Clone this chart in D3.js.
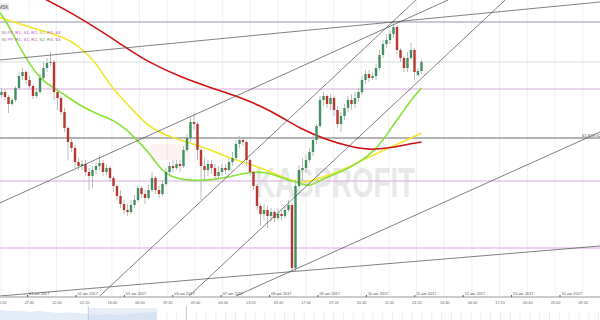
<!DOCTYPE html>
<html>
<head>
<meta charset="utf-8">
<script src="https://cdn.jsdelivr.net/npm/d3@7"></script>
<style>
  body { margin: 0; background: #fff; }
  svg { display: block; font-family: "Liberation Sans", Arial, sans-serif; }
</style>
</head>
<body>
<svg id="chart" width="600" height="320"></svg>
<script>
// --- candles (one per bar) ---
var openP = [60.05,60.08,60.03,59.96,60.00,60.12,60.24,60.28,60.20,60.14,60.04,60.08,60.22,60.32,60.37,60.38,60.08,60.02,59.88,59.72,
  59.58,59.52,59.38,59.34,59.36,59.28,59.24,59.30,59.34,59.37,59.28,59.32,59.22,59.14,59.04,58.96,58.90,58.88,58.95,59.00,
  59.12,59.06,59.02,59.10,59.22,59.10,59.06,59.16,59.28,59.34,59.32,59.36,59.34,59.50,59.62,59.78,59.76,59.50,59.34,59.30,
  59.36,59.32,59.24,59.28,59.32,59.30,59.38,59.42,59.56,59.60,59.58,59.40,59.28,59.14,58.94,58.86,58.90,58.84,58.88,58.82,
  58.86,58.84,58.90,58.95,58.32,59.14,59.30,59.32,59.40,59.48,59.60,59.74,60.00,60.04,59.96,60.02,59.90,59.76,59.84,59.92,
  60.00,59.96,60.02,60.08,60.20,60.26,60.22,60.24,60.32,60.45,60.56,60.60,60.66,60.73,60.50,60.42,60.32,60.42,60.50,60.25,60.29];
var highP = [60.12,60.10,60.05,60.02,60.14,60.28,60.32,60.30,60.24,60.16,60.12,60.26,60.38,60.42,60.48,60.40,60.12,60.04,59.92,59.74,
  59.62,59.55,59.42,59.40,59.40,59.32,59.34,59.38,59.45,59.40,59.36,59.34,59.24,59.16,59.10,59.00,58.96,59.00,59.05,59.15,
  59.14,59.10,59.15,59.28,59.24,59.14,59.20,59.32,59.38,59.40,59.40,59.40,59.54,59.66,59.82,59.87,59.78,59.52,59.42,59.40,
  59.40,59.36,59.34,59.36,59.36,59.42,59.48,59.60,59.64,59.62,59.60,59.42,59.30,59.16,58.96,58.96,58.94,58.92,58.90,58.92,
  58.90,58.94,59.00,58.97,59.20,59.35,59.42,59.45,59.52,59.64,59.76,60.04,60.08,60.06,60.06,60.04,59.94,59.88,59.96,60.04,
  60.06,60.08,60.12,60.24,60.30,60.30,60.28,60.36,60.50,60.60,60.66,60.70,60.78,60.75,60.52,60.44,60.48,60.57,60.52,60.32,60.40];
var lowP = [60.02,60.00,59.87,59.94,59.98,60.10,60.20,60.16,60.11,60.01,60.02,60.06,60.20,60.28,60.34,60.00,59.90,59.85,59.68,59.40,
  59.48,59.32,59.30,59.30,59.24,59.10,59.12,59.26,59.30,59.24,59.25,59.18,59.08,59.00,58.92,58.86,58.84,58.86,58.92,58.98,
  59.02,58.96,59.00,59.08,59.06,59.02,59.04,59.14,59.24,59.28,59.30,59.28,59.32,59.48,59.58,59.70,59.40,59.00,59.20,59.24,
  59.26,59.22,59.20,59.24,59.26,59.28,59.34,59.40,59.52,59.54,59.34,59.24,59.10,58.90,58.74,58.80,58.72,58.78,58.78,58.80,
  58.80,58.82,58.88,58.28,58.29,59.12,59.20,59.28,59.38,59.44,59.56,59.72,59.94,59.92,59.90,59.84,59.72,59.68,59.80,59.88,
  59.90,59.92,59.98,60.05,60.16,60.18,60.20,60.20,60.30,60.42,60.52,60.56,60.62,60.46,60.38,60.28,60.28,60.40,60.20,60.24,60.26];
var closeP = [60.08,60.03,59.96,60.00,60.12,60.24,60.28,60.20,60.14,60.04,60.08,60.22,60.32,60.37,60.38,60.08,60.02,59.88,59.72,59.58,
  59.52,59.38,59.34,59.36,59.28,59.24,59.30,59.34,59.37,59.28,59.32,59.22,59.14,59.04,58.96,58.90,58.88,58.95,59.00,59.12,
  59.06,59.02,59.10,59.22,59.10,59.06,59.16,59.28,59.34,59.32,59.36,59.34,59.50,59.62,59.78,59.76,59.50,59.34,59.30,59.36,
  59.32,59.24,59.28,59.32,59.30,59.38,59.42,59.56,59.60,59.58,59.40,59.28,59.14,58.94,58.86,58.90,58.84,58.88,58.82,58.86,
  58.84,58.90,58.95,58.32,59.14,59.30,59.32,59.40,59.48,59.60,59.74,60.00,60.04,59.96,60.02,59.90,59.76,59.84,59.92,60.00,
  59.96,60.02,60.08,60.20,60.26,60.22,60.24,60.32,60.45,60.56,60.60,60.66,60.73,60.50,60.42,60.32,60.42,60.50,60.28,60.29,60.38];

// --- moving averages, [bar, price] ---
var maRed = [[5,61.14],[13,61.00],[20,60.87],[28,60.70],[37,60.49],[42,60.38],[51,60.23],[60,60.12],[68,60.03],[74,59.94],
  [80,59.83],[85,59.72],[93,59.60],[100,59.53],[105,59.50],[111,59.52],[115,59.55],[120,59.58]];
var maYellow = [[-1,60.83],[8,60.73],[18,60.63],[22,60.54],[27,60.38],[31,60.14],[37,59.92],[42,59.73],[48,59.63],[54,59.57],
  [60,59.50],[65,59.42],[71,59.36],[77,59.28],[82,59.20],[87,59.17],[91,59.22],[97,59.29],[102,59.38],[108,59.48],[114,59.57],[120,59.67]];
var maGreen = [[-1,60.90],[2,60.75],[4,60.60],[7,60.42],[11,60.20],[17,60.08],[22,59.95],[28,59.85],[32,59.80],[36,59.70],
  [40,59.55],[42,59.48],[45,59.33],[48,59.23],[54,59.19],[60,59.20],[65,59.23],[71,59.28],[75,59.28],[78,59.25],[82,59.20],
  [85,59.17],[88,59.13],[91,59.20],[97,59.28],[102,59.37],[107,59.50],[111,59.70],[114,59.85],[117,60.00],[120,60.12]];

// --- pivot levels and trend lines ---
var levels = [60.78, 60.38, 60.11, 59.62, 59.19, 58.52];
var trendLines = [[-0.5,60.40,171,60.98],[-0.5,58.97,127.6,61.00],[28.1,58.04,118.4,61.00],
  [53.6,58.04,143.9,61.00],[67.0,58.04,171,59.68],[-0.5,58.04,171,58.54]];

// --- axis labels ---
var timeLabels = ["09:20","22:40","12:00","02:20","16:40","06:00","19:20","09:40","00:00","13:20","03:40",
  "17:00","07:20","20:40","11:00","01:20","14:40","04:00","17:20","06:40","20:00","09:20"];
var dayLabels = ["01 авг 2017","02 авг 2017","03 авг 2017","04 авг 2017","07 авг 2017","08 авг 2017",
  "09 авг 2017","10 авг 2017","11 авг 2017","12 авг 2017","13 авг 2017","14 авг 2017"];
var legendTokens = ["B)","PP,","R1,","S1,","R2,","S2,","R3,","S3"];
var navVals = [10,9,9.5,8,9,8,7,7.5,7,6,5,6,5,5.5,7,7.5,8];

var W = 600, PLOT_H = 296;
var TIME_STEP = 7.914, TIME_OFF = -0.14, DAY_STEP = 13.83, DAY_OFF = 7.3;
var levelStyle = [
  {c: '#c9c9d6', w: 2.2}, {c: '#d6dcdc', w: 1.2}, {c: '#d6a9de', w: 1.2},
  {c: '#9a9a9a', w: 1.5}, {c: '#d6a9de', w: 1.2}, {c: '#d6a9de', w: 1.2}];
var legendColors = [
  ['#888','#b556cc','#b556cc','#b556cc','#b556cc','#c9b422','#b556cc','#b556cc'],
  ['#888','#b556cc','#777','#b556cc','#c25a86','#3fa043','#777','#b556cc']];

var svg = d3.select('#chart');
var x = d3.scaleLinear().domain([0, 171]).range([1.5, W]);
var y = d3.scaleLinear().domain([58.04, 61.00]).range([PLOT_H, 0]);

svg.append('defs').append('clipPath').attr('id', 'plot')
  .append('rect').attr('width', W).attr('height', PLOT_H);

var plot = svg.append('g').attr('clip-path', 'url(#plot)');

// vertical grid
var timeTicks = timeLabels.map(function (d, i) { return TIME_OFF + i * TIME_STEP; });
plot.selectAll('.vgrid').data(timeTicks).enter().append('line')
  .attr('x1', function (d) { return x(d); }).attr('x2', function (d) { return x(d); })
  .attr('y1', 0).attr('y2', PLOT_H)
  .attr('stroke', '#ececec').attr('stroke-width', 0.8);

// watermark
var wm = plot.append('g').attr('opacity', 0.22);
wm.append('rect').attr('x', 150).attr('y', 144).attr('width', 40).attr('height', 16)
  .attr('rx', 3).attr('fill', '#f4a0a0').attr('opacity', 0.6);
wm.append('text').attr('x', 255).attr('y', 197)
  .attr('font-size', 42).attr('font-weight', 'bold').attr('fill', '#9a9a9a')
  .attr('textLength', 160).attr('lengthAdjust', 'spacingAndGlyphs').text('KASPROFIT');

// pivot levels
plot.selectAll('.level').data(levels).enter().append('line')
  .attr('x1', 0).attr('x2', W)
  .attr('y1', function (d) { return y(d); }).attr('y2', function (d) { return y(d); })
  .attr('stroke', function (d, i) { return levelStyle[i].c; })
  .attr('stroke-width', function (d, i) { return levelStyle[i].w; });

// moving averages
var maLine = d3.line()
  .x(function (d) { return x(d[0]); })
  .y(function (d) { return y(d[1]); })
  .curve(d3.curveBasis);
[[maYellow, '#f2e62a'], [maGreen, '#86e236'], [maRed, '#cf1111']].forEach(function (m) {
  plot.append('path').attr('d', maLine(m[0]))
    .attr('fill', 'none').attr('stroke', m[1]).attr('stroke-width', 1.6);
});

// candles
var bars = d3.range(closeP.length);
var cg = plot.append('g');
cg.selectAll('.wick').data(bars).enter().append('line')
  .attr('x1', function (i) { return x(i); }).attr('x2', function (i) { return x(i); })
  .attr('y1', function (i) { return y(highP[i]); }).attr('y2', function (i) { return y(lowP[i]); })
  .attr('stroke', '#b4b4b4').attr('stroke-width', 0.9);
cg.selectAll('.body').data(bars).enter().append('rect')
  .attr('x', function (i) { return x(i) - 1.2; })
  .attr('width', 2.4)
  .attr('y', function (i) { return y(Math.max(openP[i], closeP[i])); })
  .attr('height', function (i) { return Math.max(0.8, Math.abs(y(openP[i]) - y(closeP[i]))); })
  .attr('fill', function (i) { return closeP[i] >= openP[i] ? '#3e8f62' : '#b8372c'; });

// trend lines
plot.selectAll('.trend').data(trendLines).enter().append('line')
  .attr('x1', function (d) { return x(d[0]); }).attr('y1', function (d) { return y(d[1]); })
  .attr('x2', function (d) { return x(d[2]); }).attr('y2', function (d) { return y(d[3]); })
  .attr('stroke', '#4a4a4a').attr('stroke-width', 0.7);

// fib label on right
svg.append('text').attr('x', 582).attr('y', y(levels[3]) - 0.8)
  .attr('font-size', 4).attr('fill', '#555').text('61.8(59.62)');

// top-left symbol box
svg.append('rect').attr('x', 0).attr('y', 3).attr('width', 9).attr('height', 8).attr('fill', '#eeeeee');
svg.append('text').attr('x', 8.5).attr('y', 9).attr('text-anchor', 'end')
  .attr('font-size', 4.5).attr('fill', '#444').text('MSK');

// pivot legends
legendColors.forEach(function (cols, row) {
  var t = svg.append('text').attr('x', 2).attr('y', 33.5 + row * 7).attr('font-size', 4.4);
  legendTokens.forEach(function (tok, k) {
    t.append('tspan').attr('fill', cols[k]).text((k ? ' ' : '') + tok);
  });
});

// x axis: day markers above the line
svg.append('line').attr('x1', 0).attr('x2', W).attr('y1', 297).attr('y2', 297)
  .attr('stroke', '#9a9a9a').attr('stroke-width', 1.2);
var dayTicks = dayLabels.map(function (d, i) { return DAY_OFF + i * DAY_STEP; });
var dayAxis = d3.axisTop(x).tickValues(dayTicks)
  .tickFormat(function (d, i) { return dayLabels[i]; }).tickSize(2).tickPadding(0);
var dg = svg.append('g').attr('transform', 'translate(0,297)').call(dayAxis);
dg.select('.domain').remove();
dg.selectAll('line').attr('stroke', '#555').attr('stroke-width', 1);
dg.selectAll('text').attr('text-anchor', 'start').attr('dx', 1.5).attr('dy', 0.3)
  .attr('font-size', 3.8).attr('fill', '#555').attr('font-family', null);

// x axis: time labels below
var timeAxis = d3.axisBottom(x).tickValues(timeTicks)
  .tickFormat(function (d, i) { return timeLabels[i]; }).tickSize(0).tickPadding(4);
var tg = svg.append('g').attr('transform', 'translate(0,297)').call(timeAxis);
tg.select('.domain').remove();
tg.selectAll('text').attr('font-size', 3.8).attr('fill', '#666').attr('font-family', null);

// navigator strip
var navX = d3.scaleLinear().domain([0, 16]).range([0, 157]);
var navY = d3.scaleLinear().domain([0, 10]).range([320, 310]);
svg.append('path').datum(navVals)
  .attr('d', d3.area().x(function (d, i) { return navX(i); }).y0(320).y1(function (d) { return navY(d); }))
  .attr('fill', '#e3ecf7');
svg.append('rect').attr('x', navX(9)).attr('y', navY(10) - 2).attr('width', navX(16) - navX(9)).attr('height', 12)
  .attr('fill', '#c9d9ef').attr('opacity', 0.45);
svg.selectAll('.navtick').data(d3.range(17, 62)).enter().append('line')
  .attr('x1', function (d) { return navX(d); }).attr('x2', function (d) { return navX(d); })
  .attr('y1', 313).attr('y2', 320).attr('stroke', '#e6e6e6').attr('stroke-width', 0.8);
[9, 19].forEach(function (k) {
  svg.append('line').attr('x1', navX(k)).attr('x2', navX(k)).attr('y1', 306).attr('y2', 320)
    .attr('stroke', '#c0c0c0').attr('stroke-width', 0.8);
});
</script>
</body>
</html>
